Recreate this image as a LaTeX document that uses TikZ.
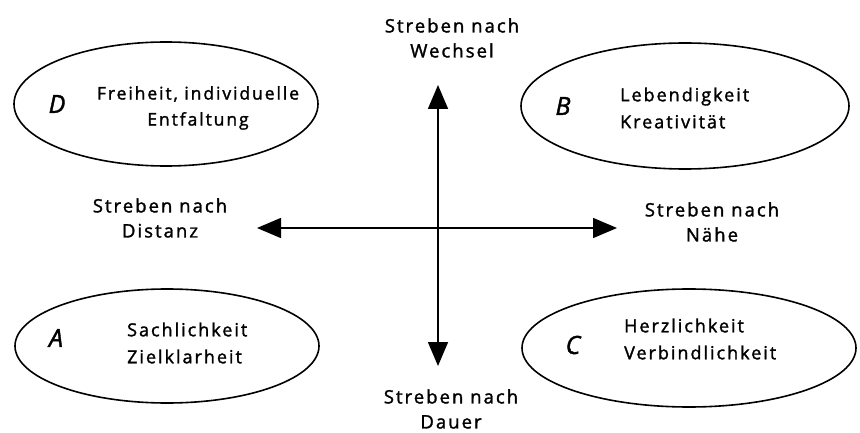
\documentclass[tikz,border=0pt]{standalone}
\usepackage{fontspec}
\setmainfont{Open Sans}[LetterSpace=11, FakeBold=1.6]
\usetikzlibrary{shapes.geometric,arrows.meta}
\begin{document}
\begin{tikzpicture}[x=1pt,y=1pt,
  ell/.style={draw, line width=1.6pt, ellipse, inner sep=0pt},
  lab/.style={font=\fontsize{18.5}{25}\selectfont, align=center, inner sep=0pt},
  txt/.style={font=\fontsize{18}{27}\selectfont, align=left, inner sep=0pt, anchor=west},
  big/.style={font=\fontsize{25}{25}\selectfont\itshape, inner sep=0pt},
  axis/.style={line width=1.6pt, {Triangle[width=20pt,length=24pt]}-{Triangle[width=20pt,length=24pt]}}]
\useasboundingbox (0,0) rectangle (860,-433);
% ellipses
\node[ell, minimum width=304pt, minimum height=124pt] (D) at (166,-104) {};
\node[ell, minimum width=328pt, minimum height=126pt] (B) at (685,-106) {};
\node[ell, minimum width=304pt, minimum height=114pt] (A) at (167,-346) {};
\node[ell, minimum width=334pt, minimum height=118pt] (C) at (689,-348) {};
% letters
\node[big] (Dl) at (57,-104) {D};
\node[big] (Bl) at (563,-106) {B};
\node[big] (Al) at (56,-338) {A};
\node[big] (Cl) at (573,-345) {C};
% texts
\node[lab, font=\fontsize{17.5}{26}\selectfont] (Dt) at (198,-108) {Freiheit, individuelle\\Entfaltung};
\node[txt] (Bt) at (620,-108) {Lebendigkeit\\Kreativität};
\node[txt] (At) at (127,-343) {Sachlichkeit\\Zielklarheit};
\node[txt] (Ct) at (624,-339) {Herzlichkeit\\Verbindlichkeit};
% axes
\coordinate (top) at (438,-85);
\coordinate (bot) at (438,-366);
\coordinate (lft) at (257,-228);
\coordinate (rgt) at (617,-228);
\draw[axis] (bot) -- (top);
\draw[axis] (lft) -- (rgt);
% axis labels
\node[lab] (W) at (452,-38) {Streben nach\\Wechsel};
\node[lab] (Di) at (160,-218) {Streben nach\\Distanz};
\node[lab] (N) at (712,-222) {Streben nach\\Nähe};
\node[lab] (Da) at (451,-409) {Streben nach\\Dauer};
\end{tikzpicture}
\end{document}
